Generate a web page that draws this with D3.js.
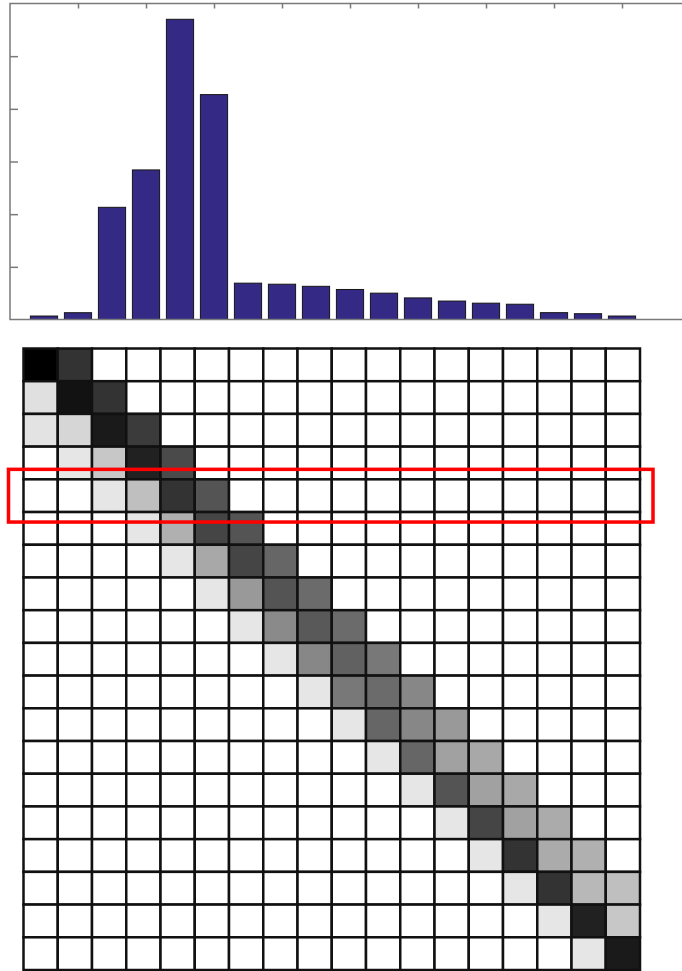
<!DOCTYPE html>
<html>
<head>
<meta charset="utf-8">
<script src="https://cdn.jsdelivr.net/npm/d3@7"></script>
<style>
    body { margin: 0; background: #fff; }
    svg { display: block; }
</style>
</head>
<body>
<svg id="chart"></svg>
<script>
// bar heights, one per bin (1..18)
let bins = d3.range(1, 19);
let counts = [0.066, 0.129, 2.13, 2.84, 5.70, 4.27, 0.69, 0.67, 0.63, 0.57,
              0.50, 0.41, 0.35, 0.31, 0.29, 0.13, 0.11, 0.066];
let xTicks = [2, 4, 6, 8, 10, 12, 14, 16, 18];
let yTicks = [1, 2, 3, 4, 5];

// transition matrix, darkness 0 (white) .. 1 (black), 19 rows x 18 columns
let matrix = [
    [1.00, 0.80, 0, 0, 0, 0, 0, 0, 0, 0, 0, 0, 0, 0, 0, 0, 0, 0],
    [0.12, 0.93, 0.80, 0, 0, 0, 0, 0, 0, 0, 0, 0, 0, 0, 0, 0, 0, 0],
    [0.11, 0.16, 0.90, 0.77, 0, 0, 0, 0, 0, 0, 0, 0, 0, 0, 0, 0, 0, 0],
    [0, 0.10, 0.22, 0.87, 0.71, 0, 0, 0, 0, 0, 0, 0, 0, 0, 0, 0, 0, 0],
    [0, 0, 0.10, 0.25, 0.80, 0.67, 0, 0, 0, 0, 0, 0, 0, 0, 0, 0, 0, 0],
    [0, 0, 0, 0.10, 0.31, 0.73, 0.67, 0, 0, 0, 0, 0, 0, 0, 0, 0, 0, 0],
    [0, 0, 0, 0, 0.10, 0.34, 0.73, 0.60, 0, 0, 0, 0, 0, 0, 0, 0, 0, 0],
    [0, 0, 0, 0, 0, 0.10, 0.40, 0.67, 0.58, 0, 0, 0, 0, 0, 0, 0, 0, 0],
    [0, 0, 0, 0, 0, 0, 0.10, 0.46, 0.65, 0.58, 0, 0, 0, 0, 0, 0, 0, 0],
    [0, 0, 0, 0, 0, 0, 0, 0.10, 0.47, 0.62, 0.53, 0, 0, 0, 0, 0, 0, 0],
    [0, 0, 0, 0, 0, 0, 0, 0, 0.10, 0.53, 0.58, 0.47, 0, 0, 0, 0, 0, 0],
    [0, 0, 0, 0, 0, 0, 0, 0, 0, 0.10, 0.60, 0.47, 0.40, 0, 0, 0, 0, 0],
    [0, 0, 0, 0, 0, 0, 0, 0, 0, 0, 0.10, 0.60, 0.37, 0.34, 0, 0, 0, 0],
    [0, 0, 0, 0, 0, 0, 0, 0, 0, 0, 0, 0.10, 0.67, 0.37, 0.34, 0, 0, 0],
    [0, 0, 0, 0, 0, 0, 0, 0, 0, 0, 0, 0, 0.10, 0.73, 0.37, 0.33, 0, 0],
    [0, 0, 0, 0, 0, 0, 0, 0, 0, 0, 0, 0, 0, 0.10, 0.80, 0.33, 0.31, 0],
    [0, 0, 0, 0, 0, 0, 0, 0, 0, 0, 0, 0, 0, 0, 0.10, 0.80, 0.28, 0.25],
    [0, 0, 0, 0, 0, 0, 0, 0, 0, 0, 0, 0, 0, 0, 0, 0.10, 0.87, 0.22],
    [0, 0, 0, 0, 0, 0, 0, 0, 0, 0, 0, 0, 0, 0, 0, 0, 0.10, 0.90]
];
let highlightRow = 4; // zero based, the boxed row

let width = 682;
let height = 971;

let svg = d3.select("#chart")
    .attr("width", width)
    .attr("height", height);

svg.append("rect")
    .attr("width", width)
    .attr("height", height)
    .attr("fill", "#fff");

// ---- bar chart on top ----
let x = d3.scaleLinear().domain([0, 20]).range([10, 690]);
let y = d3.scaleLinear().domain([0, 6]).range([319.5, 3.5]);
let axisColor = "#7a7a7a";

let barG = svg.append("g");

barG.selectAll(".bar")
    .data(bins)
    .enter()
    .append("rect")
        .attr("class", "bar")
        .attr("x", d => x(d - 0.4))
        .attr("width", x(0.8) - x(0))
        .attr("y", (d, i) => y(counts[i]))
        .attr("height", (d, i) => y(0) - y(counts[i]))
        .attr("fill", "#342a86")
        .attr("stroke", "#151515")
        .attr("stroke-width", 1);

// box
barG.append("rect")
    .attr("x", x(0))
    .attr("y", y(6))
    .attr("width", x(20) - x(0))
    .attr("height", y(0) - y(6))
    .attr("fill", "none")
    .attr("stroke", axisColor)
    .attr("stroke-width", 1.5);

// inward ticks: top and left (right edge falls outside the window)
let topAxis = d3.axisBottom(x).tickValues(xTicks).tickSize(5).tickFormat("");
barG.append("g")
    .attr("transform", `translate(0,${y(6)})`)
    .call(topAxis)
    .call(g => g.select(".domain").remove())
    .call(g => g.selectAll("line").attr("stroke", axisColor).attr("stroke-width", 1.5));

let leftAxis = d3.axisRight(y).tickValues(yTicks).tickSize(8).tickFormat("");
barG.append("g")
    .attr("transform", `translate(${x(0)},0)`)
    .call(leftAxis)
    .call(g => g.select(".domain").remove())
    .call(g => g.selectAll("line").attr("stroke", axisColor).attr("stroke-width", 1.5));

let rightAxis = d3.axisLeft(y).tickValues(yTicks).tickSize(8).tickFormat("");
barG.append("g")
    .attr("transform", `translate(${x(20)},0)`)
    .call(rightAxis)
    .call(g => g.select(".domain").remove())
    .call(g => g.selectAll("line").attr("stroke", axisColor).attr("stroke-width", 1.5));

// ---- matrix below ----
let cols = d3.range(matrix[0].length);
let rows = d3.range(matrix.length);
let cx = d3.scaleBand().domain(cols).range([23.5, 640]);
let cy = d3.scaleBand().domain(rows).range([348.5, 970]);
let shade = d3.scaleLinear().domain([0, 1]).range(["#ffffff", "#000000"]);

let cells = [];
rows.forEach(r => cols.forEach(c => cells.push({r: r, c: c, v: matrix[r][c]})));

let grid = svg.append("g");
grid.selectAll(".cell")
    .data(cells)
    .enter()
    .append("rect")
        .attr("class", "cell")
        .attr("x", d => cx(d.c))
        .attr("y", d => cy(d.r))
        .attr("width", cx.bandwidth())
        .attr("height", cy.bandwidth())
        .attr("fill", d => shade(d.v))
        .attr("stroke", "#111")
        .attr("stroke-width", 2.5);

// red box round the highlighted row
svg.append("rect")
    .attr("x", cx(0) - 15)
    .attr("y", cy(highlightRow) - 10)
    .attr("width", cx.range()[1] - cx.range()[0] + 28)
    .attr("height", cy.bandwidth() + 20)
    .attr("fill", "none")
    .attr("stroke", "#ff0000")
    .attr("stroke-width", 3.5);
</script>
</body>
</html>
